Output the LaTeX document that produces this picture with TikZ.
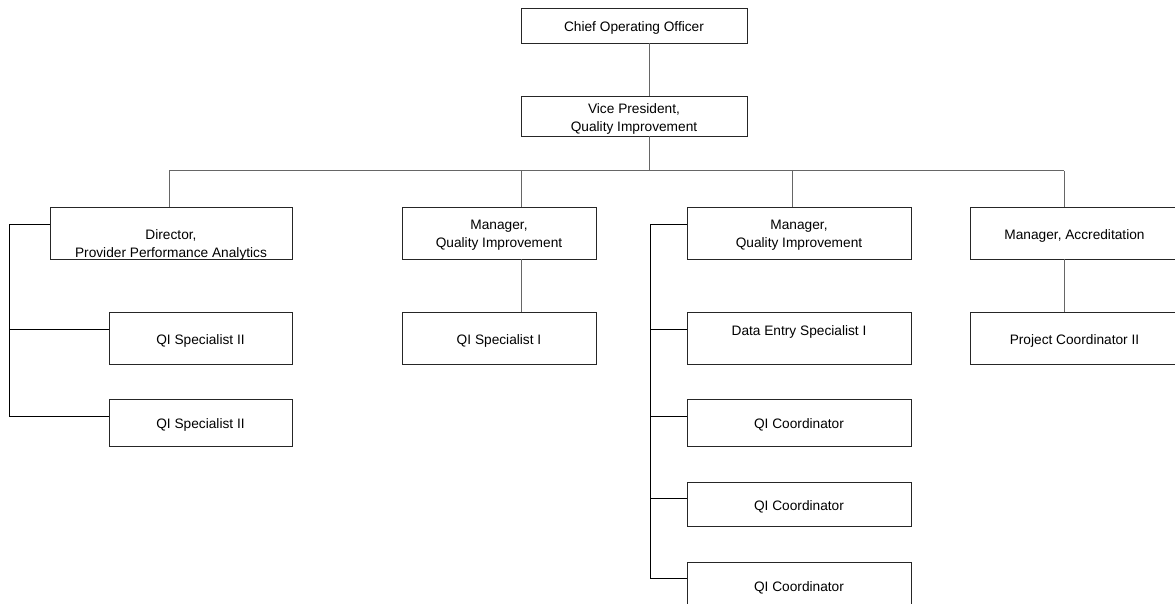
\documentclass[tikz,border=0pt]{standalone}
\usepackage{fontspec}
\setmainfont{Liberation Sans}
\begin{document}
\begin{tikzpicture}[x=1pt,y=-1pt,
  box/.style={draw=black!85, line width=0.8pt, fill=white, inner sep=0pt, minimum width=#1},
  box/.default=224pt,
  lab/.style={align=center, font=\fontsize{13.7}{18}\selectfont, inner sep=0pt},
  txt/.style={label={[lab, yshift=-2.5pt]center:#1}},
  bus/.style={draw=black!60, line width=1pt},
  side/.style={draw=black, line width=0.7pt}]
\useasboundingbox (0,0) rectangle (1175,604);
% boxes
\node[box=226pt, minimum height=35pt, txt={Chief Operating Officer}] (coo) at (634,25.5) {};
\node[box=226pt, minimum height=40pt, txt={Vice President,\\Quality Improvement}] (vp) at (634,116) {};
\node[box=242pt, minimum height=52pt, label={[lab, yshift=-11.5pt]center:Director,\\Provider Performance Analytics}] (dir) at (171,233) {};
\node[box=194pt, minimum height=52pt, txt={Manager,\\Quality Improvement}] (mq1) at (499,233) {};
\node[box=224pt, minimum height=52pt, txt={Manager,\\Quality Improvement}] (mq2) at (799,233) {};
\node[box=209pt, minimum height=52pt, txt={Manager, Accreditation}] (mac) at (1074.5,233) {};
\node[box=183pt, minimum height=52pt, txt={QI Specialist II}] (qs1) at (200.5,338) {};
\node[box=183pt, minimum height=47pt, txt={QI Specialist II}] (qs2) at (200.5,422.5) {};
\node[box=194pt, minimum height=52pt, txt={QI Specialist I}] (qsi) at (499,338) {};
\node[box=224pt, minimum height=52pt, label={[lab, yshift=6pt]center:Data Entry Specialist I}] (des) at (799,338) {};
\node[box=224pt, minimum height=47pt, txt={QI Coordinator}] (qc1) at (799,422.5) {};
\node[box=224pt, minimum height=44pt, txt={QI Coordinator}] (qc2) at (799,504) {};
\node[box=224pt, minimum height=47pt, txt={QI Coordinator}] (qc3) at (799,585.5) {};
\node[box=209pt, minimum height=52pt, txt={Project Coordinator II}] (pc) at (1074.5,338) {};
% bus coordinates
\coordinate (t) at (649,171);
\coordinate (b1) at (169,171);
\coordinate (b2) at (521,171);
\coordinate (b3) at (792,171);
\coordinate (b4) at (1064,171);
\coordinate (l) at (9,224);
\coordinate (r) at (650,224);
% branch points on box sides
\coordinate (eq1) at ([yshift=8.5pt]qs1.west);
\coordinate (eq2) at ([yshift=6.5pt]qs2.west);
\coordinate (ed) at ([yshift=9pt]des.west);
\coordinate (ec1) at ([yshift=6.5pt]qc1.west);
\coordinate (ec2) at ([yshift=6pt]qc2.west);
\coordinate (ec3) at ([yshift=7.5pt]qc3.west);
% connectors
\draw[bus] (coo.south -| t) -- (vp.north -| t);
\draw[bus] (vp.south -| t) -- (t);
\draw[bus] (b1) -- (b4);
\draw[bus] (b1) -- (b1 |- dir.north);
\draw[bus] (b2) -- (b2 |- mq1.north);
\draw[bus] (b3) -- (b3 |- mq2.north);
\draw[bus] (b4) -- (b4 |- mac.north);
\draw[bus] (b2 |- mq1.south) -- (b2 |- qsi.north);
\draw[bus] (b4 |- mac.south) -- (b4 |- pc.north);
% left trunk
\draw[side] (l -| dir.west) -- (l) |- (eq2);
\draw[side] (l |- eq1) -- (eq1);
% right trunk
\draw[side] (r -| mq2.west) -- (r) |- (ec3);
\draw[side] (r |- ed) -- (ed);
\draw[side] (r |- ec1) -- (ec1);
\draw[side] (r |- ec2) -- (ec2);
\end{tikzpicture}
\end{document}
